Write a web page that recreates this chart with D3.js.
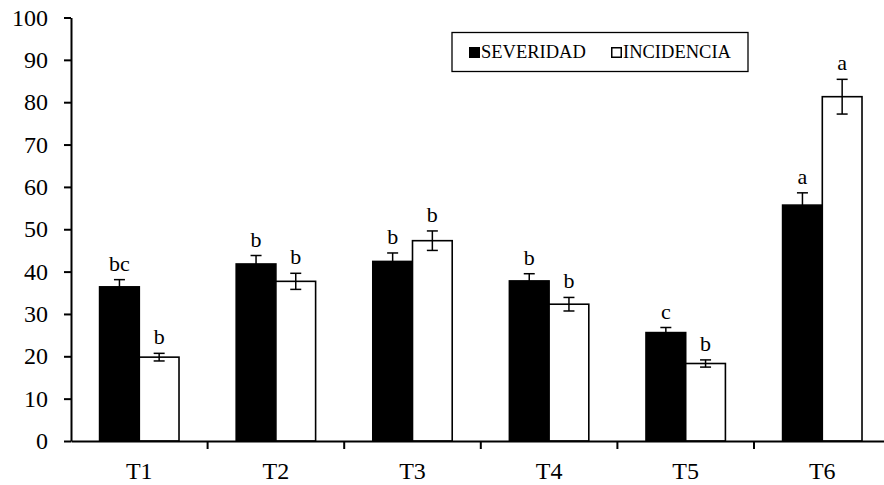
<!DOCTYPE html>
<meta charset="utf-8">
<style>
    body { margin: 0; background: #fff; }
    text { font-family: "Liberation Serif", "Times New Roman", serif; fill: #000; }
    .axis path, .axis line { stroke: #000; stroke-width: 2px; }
</style>
<body>
<script src="https://cdn.jsdelivr.net/npm/d3@7/dist/d3.min.js"></script>
<script>

    // data
    var categories = ["T1", "T2", "T3", "T4", "T5", "T6"];
    var seriesNames = ["SEVERIDAD", "INCIDENCIA"];
    var severidad = [36.4, 41.8, 42.4, 37.8, 25.6, 55.7];
    var severidadErr = [1.7, 2.0, 2.0, 1.7, 1.2, 2.9];
    var severidadLetters = ["bc", "b", "b", "b", "c", "a"];
    var incidencia = [19.8, 37.7, 47.3, 32.3, 18.3, 81.3];
    var incidenciaErr = [0.9, 1.9, 2.3, 1.6, 0.85, 4.1];
    var incidenciaLetters = ["b", "b", "b", "b", "b", "a"];
    var yTicks = [0, 10, 20, 30, 40, 50, 60, 70, 80, 90, 100];

    var FONT = "'Liberation Serif', 'Times New Roman', serif";
    var width = 884;
    var height = 485;

    var svg = d3.select("body").append("svg")
        .attr("width", width)
        .attr("height", height);

    var x0 = d3.scaleBand()
        .domain(categories)
        .range([71, 890.6])
        .paddingInner(0)
        .paddingOuter(0);

    var x1 = d3.scaleBand()
        .domain(seriesNames)
        .range([0, x0.bandwidth()])
        .paddingInner(0)
        .paddingOuter(0.72);

    var y = d3.scaleLinear()
        .domain([0, 100])
        .range([441, 17.5]);

    var fills = { "SEVERIDAD": "#000", "INCIDENCIA": "#fff" };

    var rows = [];
    categories.forEach(function (c, i) {
        rows.push({ cat: c, s: "SEVERIDAD", v: severidad[i], e: severidadErr[i], l: severidadLetters[i] });
        rows.push({ cat: c, s: "INCIDENCIA", v: incidencia[i], e: incidenciaErr[i], l: incidenciaLetters[i] });
    });

    // bars
    svg.selectAll("rect.bar")
        .data(rows)
        .enter().append("rect")
        .attr("class", "bar")
        .attr("x", function (d) { return x0(d.cat) + x1(d.s); })
        .attr("width", x1.bandwidth())
        .attr("y", function (d) { return y(d.v); })
        .attr("height", function (d) { return y(0) - y(d.v); })
        .style("fill", function (d) { return fills[d.s]; })
        .style("stroke", "#000")
        .style("stroke-width", 1.6);

    // error bars
    var eb = svg.selectAll("g.err")
        .data(rows)
        .enter().append("g")
        .attr("class", "err")
        .attr("transform", function (d) {
            return "translate(" + (x0(d.cat) + x1(d.s) + x1.bandwidth() / 2) + ",0)";
        })
        .style("stroke", "#000")
        .style("stroke-width", 1.5);

    eb.append("line")
        .attr("y1", function (d) { return y(d.v + d.e); })
        .attr("y2", function (d) { return y(d.v - d.e); });
    eb.append("line")
        .attr("x1", -5.5).attr("x2", 5.5)
        .attr("y1", function (d) { return y(d.v + d.e); })
        .attr("y2", function (d) { return y(d.v + d.e); });
    eb.append("line")
        .attr("x1", -5.5).attr("x2", 5.5)
        .attr("y1", function (d) { return y(d.v - d.e); })
        .attr("y2", function (d) { return y(d.v - d.e); });

    // significance letters
    svg.selectAll("text.letter")
        .data(rows)
        .enter().append("text")
        .attr("class", "letter")
        .attr("x", function (d) { return x0(d.cat) + x1(d.s) + x1.bandwidth() / 2; })
        .attr("y", function (d) { return y(d.v + d.e) - 9; })
        .attr("text-anchor", "middle")
        .style("font-family", FONT)
        .style("font-size", "22px")
        .text(function (d) { return d.l; });

    // x axis: line plus ticks at category boundaries
    var xAxisG = svg.append("g")
        .attr("class", "axis")
        .attr("transform", "translate(0," + y(0) + ")");
    xAxisG.call(d3.axisBottom(x0).tickSizeOuter(0).tickValues([]));

    xAxisG.selectAll("line.bound")
        .data(categories.slice(1))
        .enter().append("line")
        .attr("class", "bound")
        .attr("x1", function (d) { return x0(d); })
        .attr("x2", function (d) { return x0(d); })
        .attr("y1", 0).attr("y2", 8);

    svg.selectAll("text.cat")
        .data(categories)
        .enter().append("text")
        .attr("class", "cat")
        .attr("x", function (d) { return x0(d) + x0.bandwidth() / 2; })
        .attr("y", 479)
        .attr("text-anchor", "middle")
        .style("font-family", FONT)
        .style("font-size", "24px")
        .text(function (d) { return d; });

    // y axis
    var yAxisG = svg.append("g")
        .attr("class", "axis")
        .attr("transform", "translate(71,0)")
        .call(d3.axisLeft(y).tickValues(yTicks).tickSize(7).tickSizeOuter(0).tickPadding(16));
    yAxisG.selectAll("text")
        .style("font-family", FONT)
        .style("font-size", "24px")
        .style("fill", "#000");

    // legend
    var legend = svg.append("g");
    legend.append("rect")
        .attr("x", 452).attr("y", 32.5)
        .attr("width", 296).attr("height", 39)
        .style("fill", "#fff")
        .style("stroke", "#000")
        .style("stroke-width", 1.3);

    var legendX = [469, 611];
    var li = legend.selectAll("g.item")
        .data(seriesNames)
        .enter().append("g")
        .attr("class", "item")
        .attr("transform", function (d, i) { return "translate(" + legendX[i] + ",47)"; });
    li.append("rect")
        .attr("x", 0.75).attr("y", 0.75)
        .attr("width", 9.5).attr("height", 9.5)
        .style("fill", function (d) { return fills[d]; })
        .style("stroke", "#000")
        .style("stroke-width", 1.5);
    li.append("text")
        .attr("x", 12).attr("y", 10.7)
        .style("font-family", FONT)
        .style("font-size", "18.5px")
        .text(function (d) { return d; });

</script>
</body>
